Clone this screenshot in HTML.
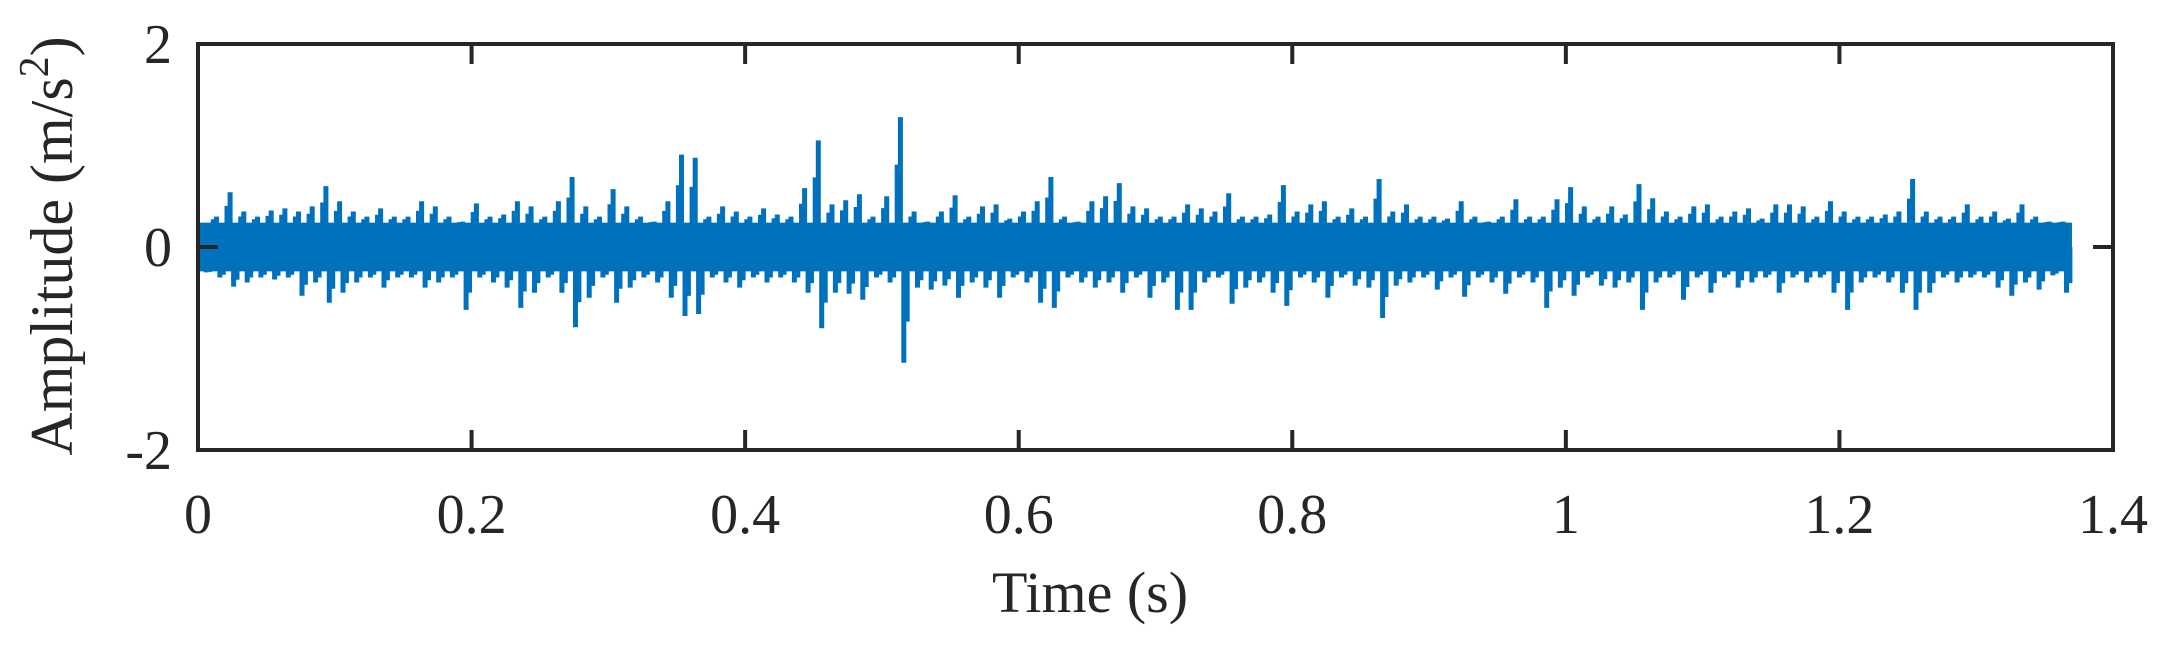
<!DOCTYPE html>
<html><head><meta charset="utf-8"><style>
html,body{margin:0;padding:0;background:#fff;}
svg text{font-family:"Liberation Serif",serif;fill:#262626;}
</style></head><body>
<svg id="chart" width="2170" height="640" viewBox="0 0 2170 640" xmlns="http://www.w3.org/2000/svg">
<rect x="0" y="0" width="2170" height="640" fill="#fff"/>
<g id="plot"></g>
<g id="axes"></g>
<text x="1090" y="612" font-size="58" text-anchor="middle">Time (s)</text>
<text transform="translate(72,246) rotate(-90)" font-size="60" text-anchor="middle">Amplitude (m/s<tspan dy="-24" font-size="42">2</tspan><tspan dy="24">)</tspan></text>
</svg>
<script>
const xTicks = [0, 0.2, 0.4, 0.6, 0.8, 1, 1.2, 1.4];
const xTickLabels = ["0", "0.2", "0.4", "0.6", "0.8", "1", "1.2", "1.4"];
const yTicks = [-2, 0, 2];
const yTickLabels = ["-2", "0", "2"];
const binStep = 0.01;
const coreBand = [0.24, -0.24];
const peakMax = [0.2,0.3,0.54,0.35,0.3,0.36,0.38,0.35,0.4,0.6,0.45,0.35,0.3,0.38,0.3,0.3,0.45,0.4,0.3,0.25,0.43,0.3,0.32,0.45,0.4,0.3,0.45,0.69,0.4,0.3,0.57,0.4,0.3,0.25,0.45,0.91,0.88,0.3,0.4,0.35,0.3,0.38,0.32,0.3,0.58,1.05,0.42,0.46,0.52,0.3,0.5,1.28,0.35,0.25,0.35,0.51,0.3,0.4,0.42,0.28,0.35,0.45,0.69,0.3,0.25,0.45,0.5,0.63,0.4,0.38,0.3,0.3,0.42,0.38,0.35,0.53,0.3,0.3,0.32,0.61,0.35,0.42,0.45,0.3,0.38,0.3,0.67,0.35,0.42,0.3,0.3,0.28,0.45,0.3,0.25,0.3,0.47,0.3,0.3,0.47,0.59,0.4,0.3,0.4,0.32,0.62,0.48,0.35,0.3,0.4,0.42,0.3,0.35,0.38,0.28,0.42,0.42,0.4,0.3,0.45,0.35,0.3,0.3,0.32,0.35,0.67,0.35,0.3,0.3,0.42,0.3,0.35,0.28,0.42,0.3,0.25,0.25];
const peakMin = [-0.25,-0.3,-0.39,-0.35,-0.3,-0.32,-0.3,-0.48,-0.35,-0.55,-0.45,-0.35,-0.3,-0.4,-0.3,-0.3,-0.4,-0.35,-0.3,-0.62,-0.3,-0.35,-0.4,-0.6,-0.45,-0.3,-0.45,-0.79,-0.5,-0.3,-0.55,-0.4,-0.3,-0.35,-0.5,-0.68,-0.66,-0.3,-0.35,-0.4,-0.3,-0.35,-0.3,-0.35,-0.45,-0.8,-0.45,-0.46,-0.52,-0.3,-0.35,-1.14,-0.4,-0.42,-0.38,-0.5,-0.35,-0.4,-0.5,-0.3,-0.35,-0.55,-0.6,-0.3,-0.35,-0.4,-0.35,-0.45,-0.3,-0.5,-0.35,-0.62,-0.62,-0.35,-0.3,-0.56,-0.4,-0.35,-0.45,-0.58,-0.3,-0.35,-0.5,-0.3,-0.38,-0.4,-0.7,-0.38,-0.35,-0.3,-0.42,-0.3,-0.49,-0.3,-0.35,-0.46,-0.3,-0.35,-0.6,-0.4,-0.48,-0.3,-0.38,-0.4,-0.35,-0.62,-0.35,-0.3,-0.52,-0.3,-0.45,-0.3,-0.4,-0.35,-0.3,-0.45,-0.3,-0.35,-0.3,-0.45,-0.62,-0.35,-0.3,-0.35,-0.45,-0.62,-0.45,-0.3,-0.35,-0.3,-0.3,-0.4,-0.48,-0.35,-0.42,-0.28,-0.45];

const NS = "http://www.w3.org/2000/svg";
const X0 = 198, X1 = 2113, Y0 = 450, Y1 = 44;
const xMin = 0, xMax = 1.4, yMin = -2, yMax = 2;
function xs(v){ return X0 + (v - xMin) / (xMax - xMin) * (X1 - X0); }
function ys(v){ return Y0 - (v - yMin) / (yMax - yMin) * (Y0 - Y1); }
function mk(tag, attrs){ const e = document.createElementNS(NS, tag); for (const k in attrs) e.setAttribute(k, attrs[k]); return e; }

const plot = document.getElementById('plot');
const axes = document.getElementById('axes');
const color = "#0072BD";

const nBins = peakMax.length;
const tEnd = nBins * binStep;
const band = mk('rect', {x: xs(0), y: ys(coreBand[0]), width: xs(tEnd) - xs(0), height: ys(coreBand[1]) - ys(coreBand[0]), fill: color});


plot.appendChild(band);

let d = "";
for (let i = 0; i < nBins; i++) {
  const t = i * binStep;
  const hiShoulder = coreBand[0] + (peakMax[i] - coreBand[0]) * 0.55;
  const loShoulder = coreBand[1] + (peakMin[i] - coreBand[1]) * 0.55;
  d += " M" + xs(t + binStep * 0.12).toFixed(1) + "," + ys(0).toFixed(1) + " V" + ys(hiShoulder).toFixed(1);
  d += " M" + xs(t + binStep * 0.35).toFixed(1) + "," + ys(0).toFixed(1) + " V" + ys(peakMax[i]).toFixed(1);
  d += " M" + xs(t + binStep * 0.6).toFixed(1) + "," + ys(0).toFixed(1) + " V" + ys(peakMin[i]).toFixed(1);
  d += " M" + xs(t + binStep * 0.85).toFixed(1) + "," + ys(0).toFixed(1) + " V" + ys(loShoulder).toFixed(1);
}
const sig = mk('path', {d: d, fill: "none", stroke: color, "stroke-width": 5});


plot.appendChild(sig);

const box = mk('rect', {x: X0, y: Y1, width: X1 - X0, height: Y0 - Y1, fill: "none", stroke: "#262626", "stroke-width": 4});


axes.appendChild(box);

const tl = 20;
xTicks.forEach((v, i) => {
  const x = xs(v);
  const t1 = mk('line', {x1: x, x2: x, y1: Y0, y2: Y0 - tl, stroke: "#262626", "stroke-width": 4});
  
  
  axes.appendChild(t1);
  const t2 = mk('line', {x1: x, x2: x, y1: Y1, y2: Y1 + tl, stroke: "#262626", "stroke-width": 4});
  
  
  axes.appendChild(t2);
  const lb = mk('text', {x: x, y: 533, "font-size": 56, "text-anchor": "middle"});
  lb.textContent = xTickLabels[i];
  
  
  axes.appendChild(lb);
});
yTicks.forEach((v, i) => {
  const y = ys(v);
  const t1 = mk('line', {x1: X0, x2: X0 + tl, y1: y, y2: y, stroke: "#262626", "stroke-width": 4});
  
  
  axes.appendChild(t1);
  const t2 = mk('line', {x1: X1, x2: X1 - tl, y1: y, y2: y, stroke: "#262626", "stroke-width": 4});
  
  
  axes.appendChild(t2);
  const lb = mk('text', {x: 172, y: y + 19, "font-size": 56, "text-anchor": "end"});
  lb.textContent = yTickLabels[i];
  
  
  axes.appendChild(lb);
});
</script>
</body></html>
